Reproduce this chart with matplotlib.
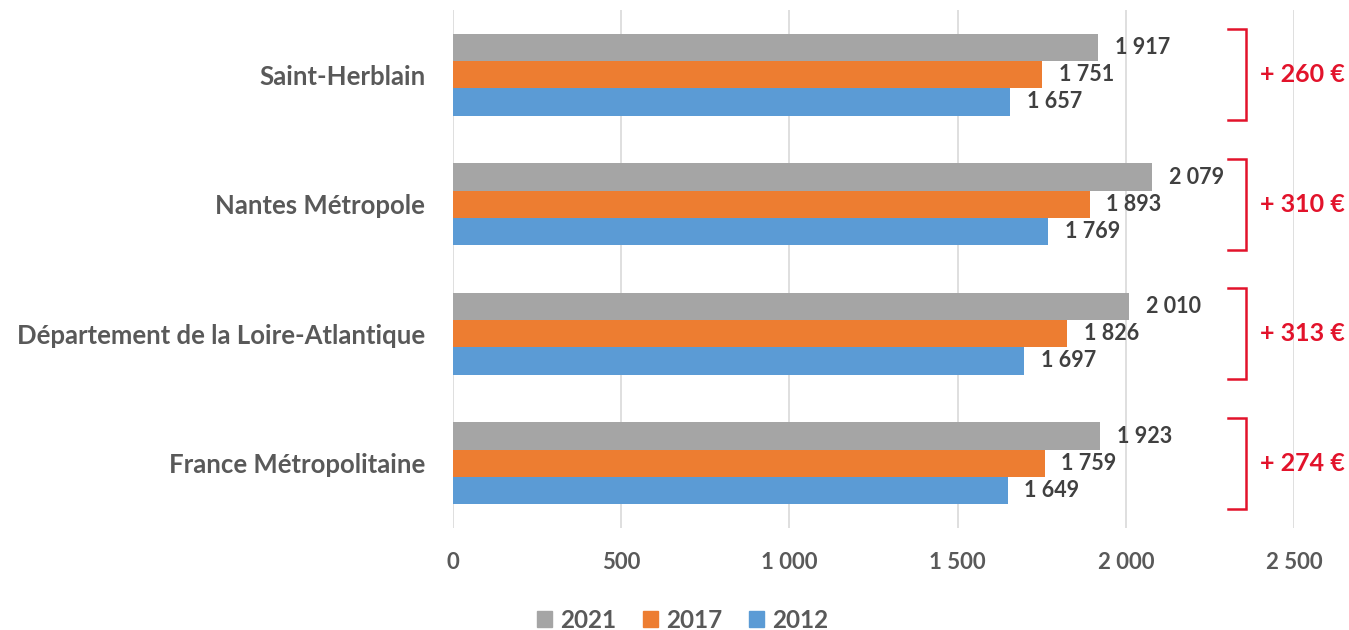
import matplotlib
matplotlib.use("Agg")
import matplotlib.pyplot as plt
from matplotlib.patches import Patch
import numpy as np

plt.rcParams['font.family'] = ['Lato', 'DejaVu Sans']

categories = ["Saint-Herblain", "Nantes Métropole",
              "Département de la Loire-Atlantique", "France Métropolitaine"]
years = ["2021", "2017", "2012"]
values_2021 = [1917, 2079, 2010, 1923]
values_2017 = [1751, 1893, 1826, 1759]
values_2012 = [1657, 1769, 1697, 1649]
x_ticks = [0, 500, 1000, 1500, 2000, 2500]

colors = {"2021": "#A5A5A5", "2017": "#ED7D31", "2012": "#5B9BD5"}
series = {"2021": values_2021, "2017": values_2017, "2012": values_2012}

def fmt(v):
    return f"{v:,}".replace(",", " ")

fig = plt.figure(figsize=(13.49, 6.30), dpi=100)
ax = fig.add_axes([453 / 1349, 1 - 528 / 630, 841 / 1349, 518 / 630])

y = np.arange(len(categories))
h = 0.21
offsets = {"2021": -h, "2017": 0.0, "2012": h}
for yr in years:
    bars = ax.barh(y + offsets[yr], series[yr], height=h, color=colors[yr], zorder=2)
    for b, v in zip(bars, series[yr]):
        ax.annotate(fmt(v), (v, b.get_y() + b.get_height() / 2),
                    xytext=(12, 0), textcoords="offset points",
                    ha="left", va="center", fontsize=15.5, fontweight="bold",
                    color="#404040")

# Evolution 2012 -> 2021 brackets
red = "#E2132B"
for i in range(len(categories)):
    gain = values_2021[i] - values_2012[i]
    top, bot = i - 0.35, i + 0.35
    ax.plot([2305, 2358, 2358, 2305], [top, top, bot, bot], color=red,
            lw=1.8, clip_on=False, zorder=3, solid_joinstyle="miter")
    ax.text(2400, i, f"+ {fmt(gain)} €", ha="left", va="center",
            fontsize=18, fontweight="bold", color=red, clip_on=False)

ax.set_xlim(0, 2500)
ax.set_ylim(len(categories) - 0.5, -0.5)
ax.set_xticks(x_ticks)
ax.set_xticklabels([fmt(t) for t in x_ticks])
ax.set_yticks(y)
ax.set_yticklabels(categories)
ax.tick_params(axis="x", length=0, pad=17, labelsize=16, labelcolor="#595959")
ax.tick_params(axis="y", length=0, pad=20, labelsize=18.5, labelcolor="#595959")
for lbl in ax.get_xticklabels() + ax.get_yticklabels():
    lbl.set_fontweight("bold")
ax.grid(axis="x", color="#D9D9D9", lw=1.2, zorder=0)
ax.set_axisbelow(True)
for s in ax.spines.values():
    s.set_visible(False)

handles = [Patch(color=colors[yr], label=yr) for yr in years]
leg = fig.legend(handles=handles, loc="center", bbox_to_anchor=(683 / 1349, 1 - 620 / 630),
                 ncol=3, frameon=False, handlelength=0.6, handleheight=0.6,
                 handletextpad=0.35, columnspacing=1.1,
                 prop={"size": 17.5, "weight": "bold"})
for t in leg.get_texts():
    t.set_color("#595959")

fig.savefig("out.png", dpi=100)
